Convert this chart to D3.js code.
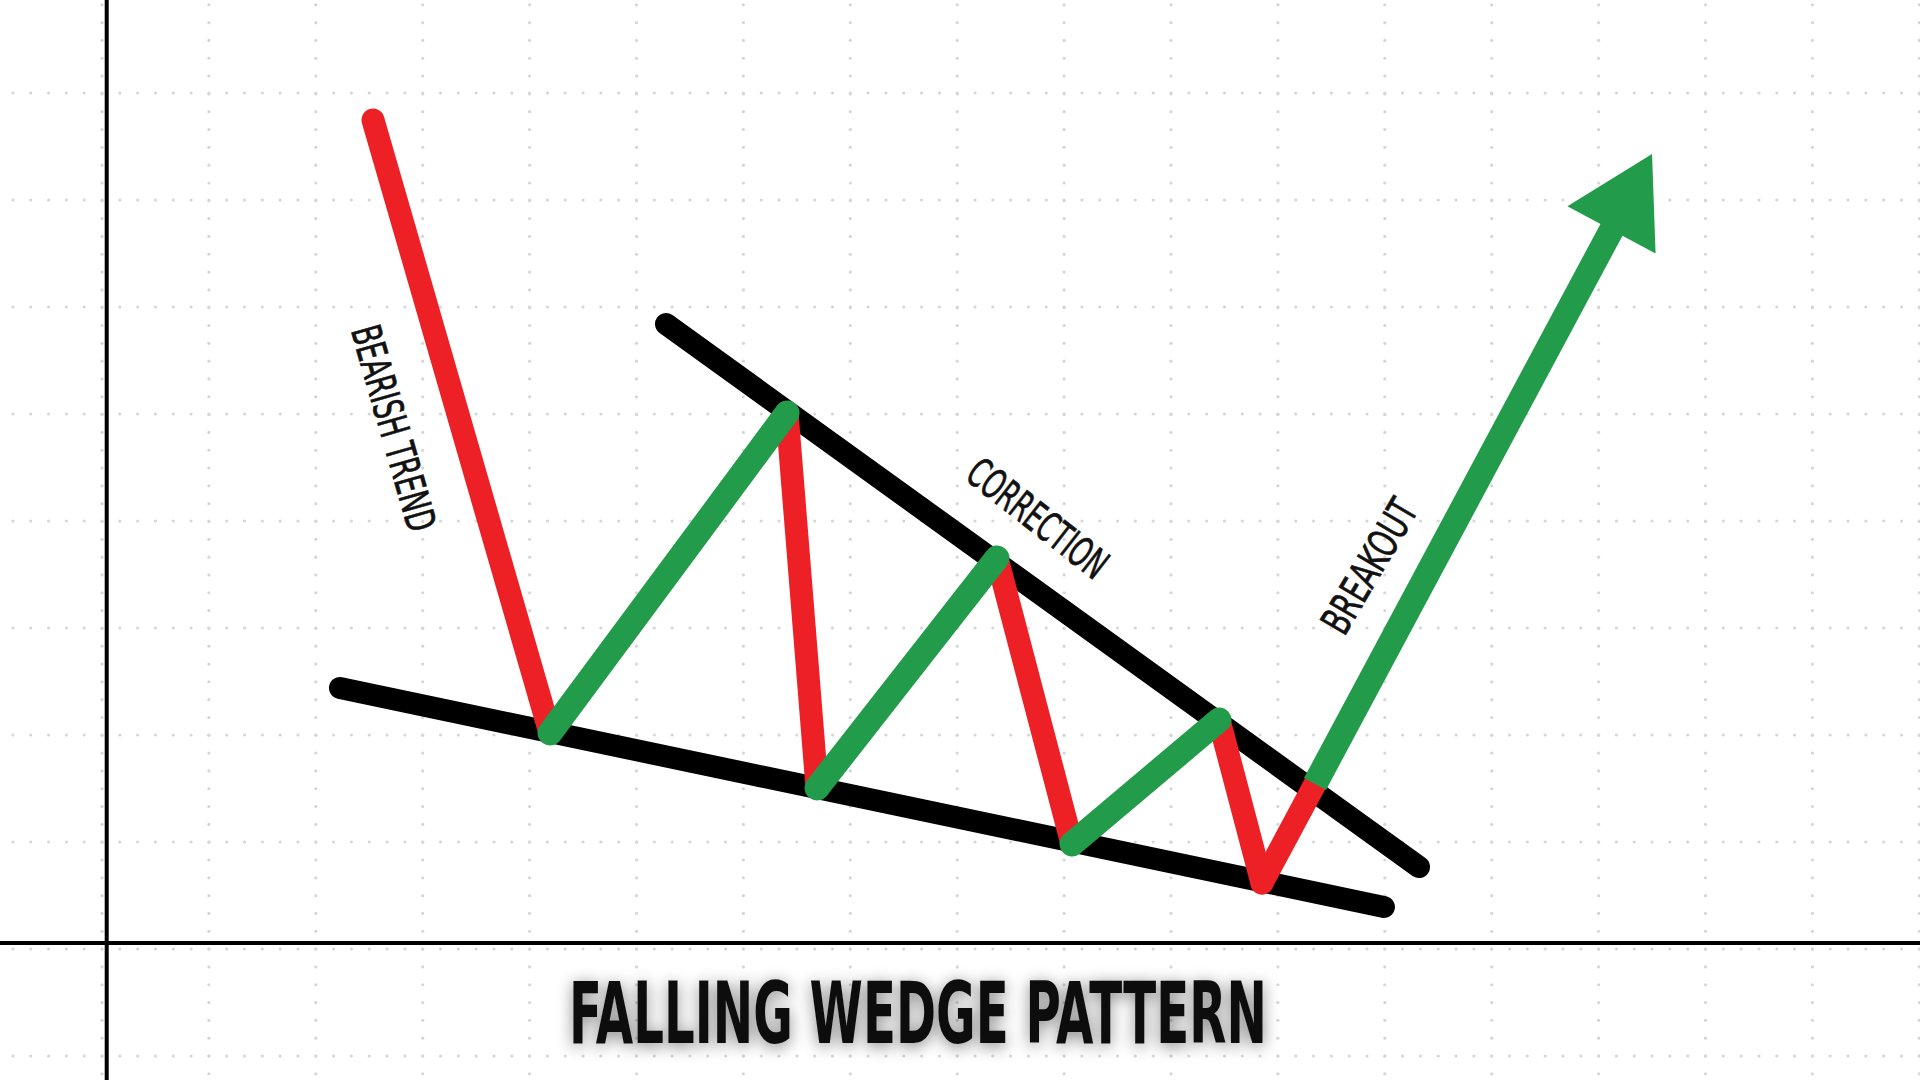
<!DOCTYPE html>
<meta charset="utf-8">

<script src="https://d3js.org/d3.v7.min.js"></script>

<style type="text/css">

    body {
        margin: 0;
        background: #ffffff;
    }

    .label {
        font-family: "Liberation Sans Narrow", "DejaVu Sans Condensed", sans-serif;
        fill: #111111;
    }

</style>

<body>
</body>

<script>

// Data (grid units: x = columns from the first dotted column, y = rows up from the row under the axis)

var gridColumns = d3.range(0, 18);
var gridRows = d3.range(-1, 10);

// price swings, from the bearish trend start to the breakout target
var swingX = [2.535, 4.191, 6.408, 6.689, 8.372, 9.074, 10.449, 10.851, 11.347, 14.500];
var swingY = [7.748, 2.019, 5.009, 1.505, 3.654, 0.981, 2.140, 0.617, 1.542, 7.430];
var swingColor = ["red", "green", "red", "green", "red", "green", "red", "red", "green"];

// wedge trend lines [start, end]
var upperLineX = [5.276, 12.320];
var upperLineY = [5.841, 0.766];
var lowerLineX = [2.226, 11.992];
var lowerLineY = [2.439, 0.393];

// axis origin
var axisX = 0.044;
var axisY = 0.056;

var labelText = ["BEARISH TREND", "CORRECTION", "BREAKOUT"];
var labelX = [2.732, 8.756, 11.852];
var labelY = [4.869, 4.028, 3.579];
var labelAngle = [74, 38, -59.5];
var labelLength = [212, 166, 148];

var titleText = "FALLING WEDGE PATTERN";
var titleX = 7.633;
var titleY = -0.879;

// Sizes and colours

var width = 1920;
var height = 1080;

var colors = {red: "#ed2025", green: "#229c4b"};

var svg = d3.select("body").append("svg")
    .attr("width", width)
    .attr("height", height)
    .style("display", "block");

var xScale = d3.scaleLinear()
    .domain([0, 17])
    .range([102, 102 + 17 * 106.9]);

var yScale = d3.scaleLinear()
    .domain([0, 10])
    .range([949, 949 - 1070]);

var cell = 106.9;
var dotStep = cell / 6;

// soft shadow for the title
var defs = svg.append("defs");
var shadow = defs.append("filter")
    .attr("id", "titleShadow")
    .attr("x", "-20%").attr("y", "-40%")
    .attr("width", "140%").attr("height", "180%");
shadow.append("feGaussianBlur")
    .attr("in", "SourceAlpha")
    .attr("stdDeviation", 8);
shadow.append("feOffset").attr("dy", 3).attr("result", "blur");
shadow.append("feComponentTransfer")
    .append("feFuncA").attr("type", "linear").attr("slope", 0.5);
var merge = shadow.append("feMerge");
merge.append("feMergeNode");
merge.append("feMergeNode").attr("in", "SourceGraphic");

// Dotted grid

var grid = svg.append("g").attr("class", "grid");

var rowDots = d3.range(0, width / dotStep + 1).map(function(i) { return i * dotStep; });
var colDots = d3.range(0, height / dotStep + 2).map(function(i) { return i * dotStep; });

gridRows.forEach(function(r) {
    grid.selectAll(null)
        .data(rowDots)
        .enter()
        .append("circle")
        .attr("cx", function(d) { return xScale(0) % dotStep + d; })
        .attr("cy", yScale(r))
        .attr("r", 1.6)
        .style("fill", "#d6d6d6");
});

gridColumns.forEach(function(c) {
    grid.selectAll(null)
        .data(colDots)
        .enter()
        .append("circle")
        .attr("cx", xScale(c))
        .attr("cy", function(d) { return yScale(-1) % dotStep + d - dotStep; })
        .attr("r", 1.6)
        .style("fill", "#d6d6d6");
});

// Axes

svg.append("line")
    .attr("x1", xScale(axisX)).attr("x2", xScale(axisX))
    .attr("y1", 0).attr("y2", height)
    .style("stroke", "#000").style("stroke-width", 4);

svg.append("line")
    .attr("x1", 0).attr("x2", width)
    .attr("y1", yScale(axisY)).attr("y2", yScale(axisY))
    .style("stroke", "#000").style("stroke-width", 4);

// Wedge lines

var wedge = [
    {x: upperLineX, y: upperLineY},
    {x: lowerLineX, y: lowerLineY}
];

svg.selectAll(".wedge")
    .data(wedge)
    .enter()
    .append("line")
    .attr("class", "wedge")
    .attr("x1", function(d) { return xScale(d.x[0]); })
    .attr("y1", function(d) { return yScale(d.y[0]); })
    .attr("x2", function(d) { return xScale(d.x[1]); })
    .attr("y2", function(d) { return yScale(d.y[1]); })
    .style("stroke", "#000")
    .style("stroke-width", 22)
    .style("stroke-linecap", "round");

// Price swings

var segments = swingColor.map(function(c, i) {
    return {
        x1: xScale(swingX[i]), y1: yScale(swingY[i]),
        x2: xScale(swingX[i + 1]), y2: yScale(swingY[i + 1]),
        color: c,
        last: i == swingColor.length - 1
    };
});

// arrow head sits on the last swing, so the shaft stops at its base
var headLength = 86;
var headHalf = 50;
var last = segments[segments.length - 1];
var dx = last.x2 - last.x1, dy = last.y2 - last.y1;
var len = Math.sqrt(dx * dx + dy * dy);
var ux = dx / len, uy = dy / len;
var baseX = last.x2 - ux * headLength;
var baseY = last.y2 - uy * headLength;

// red first, green drawn over it
var order = segments.filter(function(d) { return d.color == "red"; })
    .concat(segments.filter(function(d) { return d.color == "green"; }));

svg.selectAll(".swing")
    .data(order)
    .enter()
    .append("line")
    .attr("class", "swing")
    .attr("x1", function(d) { return d.x1; })
    .attr("y1", function(d) { return d.y1; })
    .attr("x2", function(d) { return d.last ? baseX + ux * 4 : d.x2; })
    .attr("y2", function(d) { return d.last ? baseY + uy * 4 : d.y2; })
    .style("stroke", function(d) { return colors[d.color]; })
    .style("stroke-width", function(d) { return d.color == "green" ? 25 : 23; })
    .style("stroke-linecap", function(d) { return d.last ? "butt" : "round"; });

svg.append("polygon")
    .attr("points", [
        [last.x2, last.y2],
        [baseX - uy * headHalf, baseY + ux * headHalf],
        [baseX + uy * headHalf, baseY - ux * headHalf]
    ].map(function(p) { return p.join(","); }).join(" "))
    .style("fill", colors.green);

// Labels

svg.selectAll(".label.note")
    .data(labelText)
    .enter()
    .append("text")
    .attr("class", "label note")
    .attr("transform", function(d, i) {
        return "translate(" + xScale(labelX[i]) + "," + yScale(labelY[i]) + ") rotate(" + labelAngle[i] + ")";
    })
    .attr("text-anchor", "middle")
    .attr("dy", "0.36em")
    .attr("textLength", function(d, i) { return labelLength[i]; })
    .attr("lengthAdjust", "spacingAndGlyphs")
    .style("font-size", "41px")
    .style("stroke", "#111111")
    .style("stroke-width", 0.7)
    .text(function(d) { return d; });

svg.append("text")
    .attr("class", "label title")
    .attr("x", xScale(titleX))
    .attr("y", yScale(titleY))
    .attr("text-anchor", "middle")
    .attr("textLength", 698)
    .attr("lengthAdjust", "spacingAndGlyphs")
    .attr("filter", "url(#titleShadow)")
    .style("font-size", "86px")
    .style("font-weight", "bold")
    .text(titleText);

</script>
